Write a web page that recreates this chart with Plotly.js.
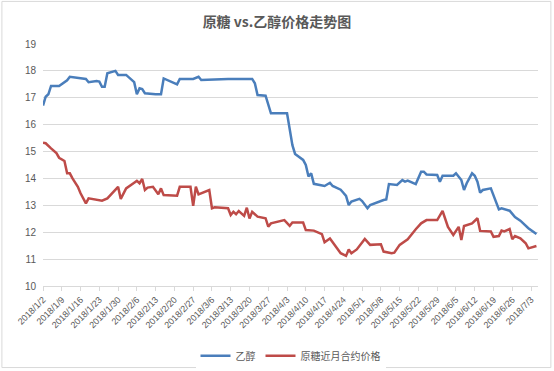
<!DOCTYPE html>
<html>
<head>
<meta charset="utf-8">
<script src="https://cdn.plot.ly/plotly-3.0.1.min.js"></script>
<style>html,body{margin:0;padding:0;background:#fff;}#chart{width:554px;height:371px;}</style>
</head>
<body>
<div id="chart"></div>
<script>
// 乙醇 (ethanol)
const ethanolDates = ["2018-01-02","2018-01-03","2018-01-04","2018-01-05","2018-01-08","2018-01-10","2018-01-11","2018-01-12","2018-01-15","2018-01-18","2018-01-19","2018-01-22","2018-01-23","2018-01-24","2018-01-25","2018-01-26","2018-01-29","2018-01-30","2018-02-02","2018-02-05","2018-02-06","2018-02-07","2018-02-08","2018-02-09","2018-02-13","2018-02-15","2018-02-16","2018-02-21","2018-02-22","2018-02-27","2018-03-01","2018-03-02","2018-03-12","2018-03-21","2018-03-22","2018-03-23","2018-03-26","2018-03-28","2018-04-03","2018-04-04","2018-04-05","2018-04-06","2018-04-09","2018-04-10","2018-04-11","2018-04-12","2018-04-13","2018-04-17","2018-04-19","2018-04-20","2018-04-23","2018-04-24","2018-04-25","2018-04-26","2018-04-27","2018-04-30","2018-05-01","2018-05-03","2018-05-04","2018-05-09","2018-05-10","2018-05-11","2018-05-14","2018-05-16","2018-05-17","2018-05-18","2018-05-21","2018-05-23","2018-05-24","2018-05-25","2018-05-29","2018-05-30","2018-05-31","2018-06-04","2018-06-05","2018-06-07","2018-06-08","2018-06-09","2018-06-11","2018-06-12","2018-06-13","2018-06-14","2018-06-15","2018-06-18","2018-06-19","2018-06-21","2018-06-22","2018-06-25","2018-06-27","2018-06-29","2018-07-02","2018-07-05"];
const ethanolValues = [16.71,17.04,17.13,17.44,17.44,17.60,17.65,17.78,17.75,17.70,17.58,17.62,17.60,17.41,17.41,17.91,18.00,17.85,17.85,17.58,17.13,17.35,17.32,17.17,17.13,17.13,17.72,17.50,17.70,17.70,17.78,17.66,17.70,17.70,17.54,17.10,17.08,16.42,16.42,15.85,15.24,14.91,14.69,14.50,14.07,14.19,13.80,13.72,13.84,13.72,13.58,13.47,13.35,13.01,13.14,13.24,13.16,12.89,13.01,13.20,13.22,13.79,13.76,13.94,13.88,13.92,13.79,14.25,14.25,14.15,14.13,13.88,14.10,14.10,14.19,13.94,13.57,13.82,14.19,14.10,13.88,13.47,13.57,13.63,13.36,12.85,12.89,12.80,12.56,12.43,12.15,11.93];

// 原糖近月合约价格 (raw sugar front-month)
const sugarDates = ["2018-01-02","2018-01-03","2018-01-05","2018-01-07","2018-01-08","2018-01-10","2018-01-11","2018-01-12","2018-01-13","2018-01-15","2018-01-16","2018-01-18","2018-01-19","2018-01-22","2018-01-24","2018-01-26","2018-01-29","2018-01-30","2018-01-31","2018-02-02","2018-02-05","2018-02-06","2018-02-07","2018-02-08","2018-02-09","2018-02-10","2018-02-12","2018-02-13","2018-02-14","2018-02-15","2018-02-16","2018-02-21","2018-02-22","2018-02-26","2018-02-27","2018-02-28","2018-03-01","2018-03-05","2018-03-06","2018-03-07","2018-03-12","2018-03-13","2018-03-14","2018-03-15","2018-03-16","2018-03-18","2018-03-19","2018-03-20","2018-03-21","2018-03-23","2018-03-26","2018-03-27","2018-03-28","2018-04-02","2018-04-04","2018-04-05","2018-04-09","2018-04-10","2018-04-12","2018-04-13","2018-04-16","2018-04-17","2018-04-19","2018-04-21","2018-04-23","2018-04-25","2018-04-26","2018-04-27","2018-04-29","2018-05-02","2018-05-04","2018-05-08","2018-05-09","2018-05-12","2018-05-13","2018-05-15","2018-05-16","2018-05-18","2018-05-21","2018-05-23","2018-05-25","2018-05-29","2018-05-31","2018-06-02","2018-06-04","2018-06-06","2018-06-07","2018-06-08","2018-06-11","2018-06-13","2018-06-14","2018-06-18","2018-06-19","2018-06-21","2018-06-22","2018-06-23","2018-06-25","2018-06-26","2018-06-27","2018-06-29","2018-07-01","2018-07-02","2018-07-05"];
const sugarValues = [15.33,15.31,15.12,14.94,14.77,14.65,14.19,14.19,14.00,13.69,13.45,13.07,13.26,13.20,13.17,13.26,13.57,13.69,13.24,13.63,13.84,13.91,13.82,13.98,13.57,13.66,13.69,13.53,13.41,13.63,13.38,13.36,13.69,13.69,12.98,13.69,13.41,13.57,12.89,12.93,12.89,12.64,12.76,12.67,12.79,12.61,12.91,12.51,12.76,12.58,12.52,12.21,12.33,12.45,12.24,12.36,12.36,12.08,12.06,12.06,11.93,11.63,11.77,11.49,11.22,11.12,11.36,11.22,11.36,11.75,11.53,11.55,11.28,11.22,11.24,11.53,11.61,11.74,12.11,12.33,12.45,12.45,12.79,12.20,11.90,12.20,11.71,12.23,12.33,12.52,12.05,12.03,11.83,11.86,12.06,12.03,12.12,11.74,11.86,11.77,11.59,11.40,11.49];

const seriesNames = ["乙醇", "原糖近月合约价格"];
const chartTitle = "原糖 vs.乙醇价格走势图";

const FONT = "'Liberation Sans', 'Noto Sans CJK SC', sans-serif";
const TXT = "#595959";

const traces = [
  {x: ethanolDates, y: ethanolValues, name: seriesNames[0], type: "scatter", mode: "lines",
   line: {color: "#4A7EBB", width: 2.5}},
  {x: sugarDates, y: sugarValues, name: seriesNames[1], type: "scatter", mode: "lines",
   line: {color: "#BE4B48", width: 2.5}}
];

const layout = {
  width: 554, height: 371,
  margin: {l: 43, r: 16, t: 44, b: 85, autoexpand: false},
  paper_bgcolor: "#ffffff", plot_bgcolor: "#ffffff",
  font: {family: FONT, color: TXT, size: 10},
  title: {text: "<b>" + chartTitle + "</b>", x: 0.5, xanchor: "center", yref: "container", y: 0.94, yanchor: "middle",
          font: {family: "'Noto Sans CJK SC', sans-serif", size: 14, color: TXT}},
  xaxis: {
    type: "date",
    range: ["2018-01-02", "2018-07-05 14:00"],
    tick0: "2018-01-02", dtick: 7 * 86400000,
    tickformat: "%Y/%-m/%-d",
    tickangle: -45,
    tickfont: {size: 9, color: TXT},
    ticks: "outside", ticklen: 4, tickcolor: "#d9d9d9",
    showgrid: false, showline: true, linecolor: "#d9d9d9", linewidth: 1,
    zeroline: false, fixedrange: true, automargin: false
  },
  yaxis: {
    range: [10, 19], dtick: 1,
    tickfont: {size: 10, color: TXT},
    showgrid: true, gridcolor: "#d9d9d9", gridwidth: 1,
    showline: false, zeroline: false, ticks: "", ticklabelstandoff: 6, fixedrange: true, automargin: false
  },
  showlegend: true,
  legend: {orientation: "h", x: 0.5, xanchor: "center", yref: "container", y: 0.08, yanchor: "top",
           font: {size: 10, color: TXT}, itemwidth: 30, tracegroupgap: 0},
  shapes: [{type: "rect", xref: "paper", yref: "paper",
            x0: -0.083, x1: 1.026, y0: -0.337, y1: 1.176,
            line: {color: "#d9d9d9", width: 1}, fillcolor: "rgba(0,0,0,0)"}]
};

Plotly.newPlot("chart", traces, layout, {displayModeBar: false, staticPlot: true});
</script>
</body>
</html>
